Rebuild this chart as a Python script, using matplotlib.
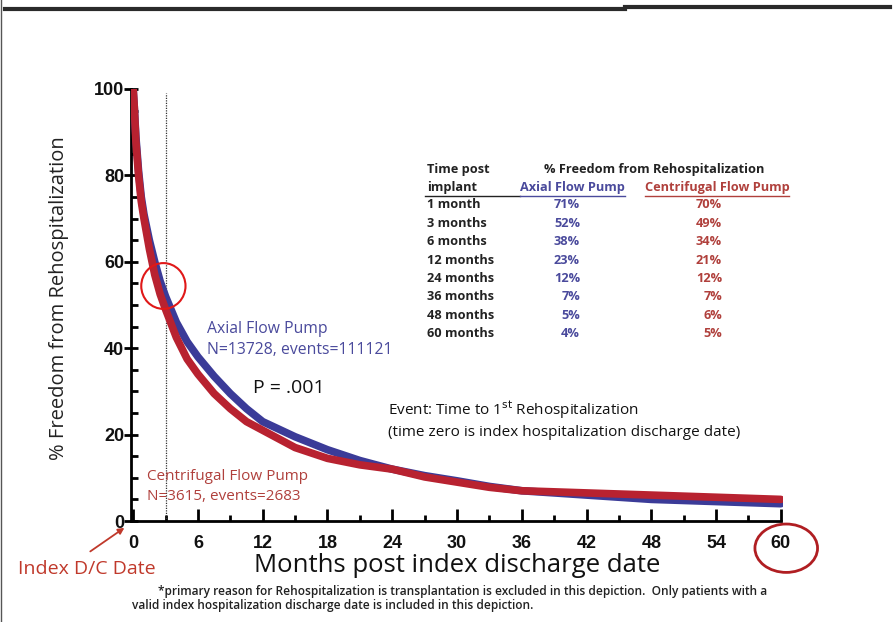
import matplotlib
matplotlib.use("Agg")
import matplotlib.pyplot as plt
from matplotlib.patches import Ellipse
from matplotlib.lines import Line2D
from matplotlib.ticker import MultipleLocator

# Kaplan-Meier style freedom from rehospitalization curves (months, %)
months = [0, 0.1, 0.25, 0.5, 0.75, 1, 1.5, 2, 2.5, 3, 4, 5, 6, 7.5, 9, 10.5, 12,
          15, 18, 21, 24, 27, 30, 33, 36, 42, 48, 54, 60]
axial = [100, 96, 89, 81, 75, 71, 65, 60, 55.5, 52, 46, 41.5, 38, 33.5, 29.5, 26, 23,
         19.5, 16.5, 14, 12, 10.5, 9.3, 8, 7, 6, 5, 4.5, 4]
centrifugal = [100, 96, 88, 80, 74, 70, 63, 57, 52.5, 49, 42.5, 37.5, 34, 29.5, 26, 23, 21,
               17, 14.5, 13, 12, 10.2, 9, 7.8, 7, 6.5, 6, 5.5, 5]

# summary table
table_rows = ["1 month", "3 months", "6 months", "12 months", "24 months",
              "36 months", "48 months", "60 months"]
table_axial = [71, 52, 38, 23, 12, 7, 5, 4]
table_centrifugal = [70, 49, 34, 21, 12, 7, 6, 5]

W, H = 895, 622
BLUE = "#3b3b98"
RED = "#b82230"
TXT_BLUE = "#4a4a9c"
TXT_RED = "#b0403c"
SANS = ["Open Sans", "DejaVu Sans"]
NUM = ["Liberation Sans", "DejaVu Sans"]


def fp(x, y):
    return x / W, 1 - y / H


fig = plt.figure(figsize=(W / 100, H / 100), dpi=100)
ax = fig.add_axes([131 / W, 1 - 521 / H, (783 - 131) / W, (521 - 89) / H])

ax.plot(months, axial, color=BLUE, lw=5.5, solid_capstyle="round", zorder=3)
ax.plot(months, centrifugal, color=RED, lw=5.5, solid_capstyle="round", zorder=4)

ax.set_xlim(-0.2, 60.2)
ax.set_ylim(0, 100)
ax.spines["top"].set_visible(False)
ax.spines["right"].set_visible(False)
ax.spines["left"].set_linewidth(2)
ax.spines["bottom"].set_linewidth(2)
ax.spines["bottom"].set_bounds(-0.2, 60)

ax.xaxis.set_major_locator(MultipleLocator(6))
ax.xaxis.set_minor_locator(MultipleLocator(3))
ax.yaxis.set_major_locator(MultipleLocator(20))
ax.yaxis.set_minor_locator(MultipleLocator(5))
ax.tick_params(axis="x", which="major", direction="in", length=9, width=2, pad=10)
ax.tick_params(axis="x", which="minor", direction="in", length=4, width=2)
ax.tick_params(axis="y", which="major", direction="inout", length=10, width=2, pad=0)
ax.tick_params(axis="y", which="minor", direction="in", length=5, width=2)
for lab in ax.get_xticklabels() + ax.get_yticklabels():
    lab.set_fontfamily(NUM)
    lab.set_fontweight("bold")
    lab.set_fontsize(13)
    lab.set_color("#111111")

ax.set_ylabel("% Freedom from Rehospitalization", fontsize=14.5, family=SANS,
              color="#222222")
ax.yaxis.set_label_coords(-0.095, 0.515)
ax.set_xlabel("Months post index discharge date", fontsize=18.5, family=SANS,
              color="#111111", labelpad=1)

# dotted marker at 3 months
ax.plot([3, 3], [0, 99], color="#333333", lw=0.9, ls=(0, (1, 1)), zorder=2)

# highlight circles
ax.add_patch(Ellipse((2.8, 54.4), 4.1, 10.6, fill=False, ec="#e01818", lw=1.5,
                     zorder=6, clip_on=False))
ax.add_patch(Ellipse((60.5, -6.3), 5.8, 11.2, fill=False, ec="#b01e22", lw=2,
                     zorder=6, clip_on=False))

# curve annotations
fig.text(*fp(207, 329), "Axial Flow Pump", fontsize=11.3, family=SANS, color=TXT_BLUE, va="center")
fig.text(*fp(207, 350), "N=13728, events=111121", fontsize=11.3, family=SANS, color=TXT_BLUE, va="center")
fig.text(*fp(253, 388), "P = .001", fontsize=14, family=SANS, color="#111111", va="center")
fig.text(*fp(388, 410), r"Event: Time to 1$^{\mathrm{st}}$ Rehospitalization", fontsize=11,
         family=SANS, color="#111111", va="center")
fig.text(*fp(388, 433), "(time zero is index hospitalization discharge date)", fontsize=11,
         family=SANS, color="#111111", va="center")
fig.text(*fp(147, 476), "Centrifugal Flow Pump", fontsize=11, family=SANS, color=TXT_RED, va="center")
fig.text(*fp(147, 497), "N=3615, events=2683", fontsize=11, family=SANS, color=TXT_RED, va="center")

# index discharge date callout
fig.text(*fp(18, 569), "Index D/C Date", fontsize=14, family=SANS, color="#c0392b", va="center")
ax.annotate("", xy=(-0.6, -1.2), xycoords="data", xytext=fp(88, 553), textcoords="figure fraction",
            arrowprops=dict(arrowstyle="-|>", color="#c0392b", lw=1.3, mutation_scale=9),
            annotation_clip=False)

# summary table
TF = 9.2
fig.text(*fp(427, 170), "Time post", fontsize=TF, weight="bold", family=SANS, color="#222222", va="center")
fig.text(*fp(427, 188), "implant", fontsize=TF, weight="bold", family=SANS, color="#222222", va="center")
fig.text(*fp(654, 170), "% Freedom from Rehospitalization", fontsize=TF, weight="bold", family=SANS,
         color="#222222", va="center", ha="center")
fig.text(*fp(572, 188), "Axial Flow Pump", fontsize=TF, weight="bold", family=SANS,
         color=TXT_BLUE, va="center", ha="center")
fig.text(*fp(717, 188), "Centrifugal Flow Pump", fontsize=TF, weight="bold", family=SANS,
         color=TXT_RED, va="center", ha="center")
fig.add_artist(Line2D([425 / W, 520 / W], [1 - 196 / H] * 2, color="#222222", lw=1))
fig.add_artist(Line2D([520 / W, 625 / W], [1 - 196 / H] * 2, color=TXT_BLUE, lw=1))
fig.add_artist(Line2D([645 / W, 789 / W], [1 - 196 / H] * 2, color=TXT_RED, lw=1))
for i, (row, a, c) in enumerate(zip(table_rows, table_axial, table_centrifugal)):
    y = 205 + i * 18.4
    fig.text(*fp(427, y), row, fontsize=TF, weight="bold", family=SANS, color="#222222", va="center")
    fig.text(*fp(580, y), f"{a}%", fontsize=TF, weight="bold", family=SANS, color=TXT_BLUE,
             va="center", ha="right")
    fig.text(*fp(722, y), f"{c}%", fontsize=TF, weight="bold", family=SANS, color=TXT_RED,
             va="center", ha="right")

# footnote
fig.text(*fp(158, 591), "*primary reason for Rehospitalization is transplantation is excluded in this "
         "depiction.  Only patients with a", fontsize=8.6, weight="semibold", family=SANS,
         color="#222222", va="center")
fig.text(*fp(132, 606), "valid index hospitalization discharge date is included in this depiction.",
         fontsize=8.6, weight="semibold", family=SANS, color="#222222", va="center")

# page rules
fig.add_artist(Line2D([5 / W, 625 / W], [1 - 9 / H] * 2, color="#2a2a2a", lw=3))
fig.add_artist(Line2D([625 / W, 890 / W], [1 - 7 / H] * 2, color="#2a2a2a", lw=3))
fig.add_artist(Line2D([1 / W, 1 / W], [0, 1], color="#555555", lw=1))

fig.savefig("out.png", dpi=100)
